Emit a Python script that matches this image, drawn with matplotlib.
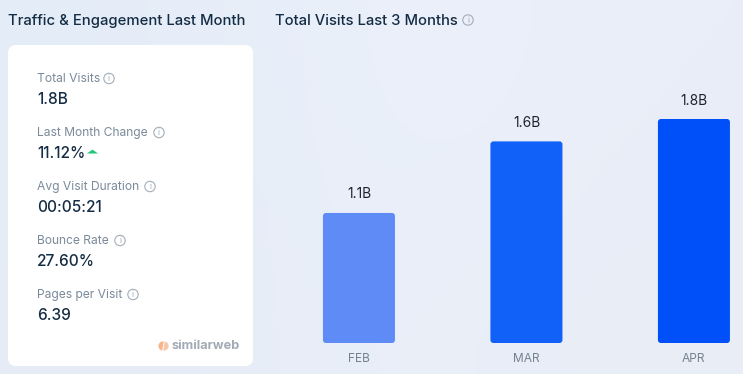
import matplotlib
matplotlib.use("Agg")
import matplotlib.pyplot as plt
import numpy as np
from matplotlib.patches import Circle, FancyBboxPatch, Wedge
from matplotlib.transforms import IdentityTransform

# data
months = ["FEB", "MAR", "APR"]
visits = [1.045, 1.62, 1.80]
visit_labels = ["1.1B", "1.6B", "1.8B"]
bar_colors = ["#5e8bf5", "#1160f7", "#0050fa"]

metric_names = ["Total Visits", "Last Month Change", "Avg Visit Duration", "Bounce Rate", "Pages per Visit"]
metric_values = ["1.8B", "11.12%", "00:05:21", "27.60%", "6.39"]

W, H = 743, 374
DARK = "#142c44"
GREY = "#7b8a9a"
ICON = "#a4aeb9"

plt.rcParams["font.family"] = ["Inter", "DejaVu Sans"]

fig = plt.figure(figsize=(W / 100, H / 100), dpi=100)

# page background + pixel overlay (y runs downward like the screenshot)
page = fig.add_axes([0, 0, 1, 1], zorder=0)
page.axis("off")
bg = np.array([[[0.894, 0.925, 0.969], [0.925, 0.945, 0.984], [0.914, 0.933, 0.973]],
               [[0.898, 0.925, 0.965], [0.918, 0.937, 0.976], [0.910, 0.929, 0.965]]])
page.imshow(bg, extent=[0, W, H, 0], aspect="auto", interpolation="bicubic", zorder=0)
page.set_xlim(0, W)
page.set_ylim(H, 0)


def info_icon(x, y, r=5.2):
    page.add_patch(Circle((x, y), r, fill=False, ec=ICON, lw=0.8, zorder=5))
    page.text(x, y + 0.2, "i", fontsize=6, color=ICON, ha="center", va="center", zorder=5)


# white card
page.add_patch(FancyBboxPatch((8, 45), 245, 321, boxstyle="round,pad=0,rounding_size=8",
                              fc="white", ec="none", zorder=2))

page.text(8, 20.5, "Traffic & Engagement Last Month", fontsize=10.65, color=DARK,
          fontweight="medium", va="center", ha="left", zorder=5)
page.text(275, 20.5, "Total Visits Last 3 Months", fontsize=10.65, color=DARK,
          fontweight="medium", va="center", ha="left", zorder=5)
info_icon(468, 20)

# metric rows
label_y = [79, 133, 187, 241, 295]
value_y = [99.5, 153.5, 207.5, 261.5, 315.5]
icon_x = [109, 159, 150, 120, 133]
for name, val, ly, vy, ix in zip(metric_names, metric_values, label_y, value_y, icon_x):
    page.text(37, ly, name, fontsize=8.7, color=GREY, va="center", ha="left", zorder=5)
    page.text(37, vy, val, fontsize=11.1, color=DARK, fontweight="medium", va="center", ha="left", zorder=5)
    info_icon(ix, ly - 0.5)

# green arrow next to the change value
page.plot([92], [152.5], marker=[(-1, 0), (1, 0), (0, 0.7)], ms=8, color="#1fc77a", mew=0, zorder=5)

# similarweb logo
page.add_patch(Wedge((163, 346), 4.6, 100, 280, fc="#f9b48c", ec="none", zorder=5))
page.add_patch(Wedge((164, 346), 4.6, 280, 100, fc="#f7c7aa", ec="none", zorder=5))
page.text(172, 346, "similarweb", fontsize=9.2, color="#a2abb5", fontweight="bold",
          va="center", ha="left", zorder=5)

# bar chart, value axis starts at pixel row 343
ax = fig.add_axes([300 / W, (H - 343) / H, (W - 300) / W, 300 / H], zorder=1)
ax.patch.set_alpha(0)
ax.set_xlim(-0.352, 2.293)
ax.set_ylim(0, 1.8 * 300 / 224)
for s in ax.spines.values():
    s.set_visible(False)
ax.set_yticks([])
x = np.arange(len(months))
bars = ax.bar(x, visits, width=0.43, color=bar_colors)
ax.set_xticks(x)
ax.set_xticklabels(months)
ax.tick_params(axis="x", length=0, pad=7.5, labelsize=8.6, labelcolor="#76838f")

# round the bar corners, keeping the geometry the axes gave them
fig.canvas.draw()
for bar, label in zip(bars, visit_labels):
    (x0, y0), (x1, y1) = ax.transData.transform([(bar.get_x(), 0), (bar.get_x() + bar.get_width(), bar.get_height())])
    fig.add_artist(FancyBboxPatch((x0, y0), x1 - x0, y1 - y0, boxstyle="round,pad=0,rounding_size=3",
                                  fc=bar.get_facecolor(), ec="none", transform=IdentityTransform(), zorder=3))
    bar.set_visible(False)
    ax.annotate(label, (bar.get_x() + bar.get_width() / 2, bar.get_height()), xytext=(0, 13.3),
                textcoords="offset points", ha="center", va="center", fontsize=9.9, color="#1a2430")

fig.savefig("out.png", dpi=100)
